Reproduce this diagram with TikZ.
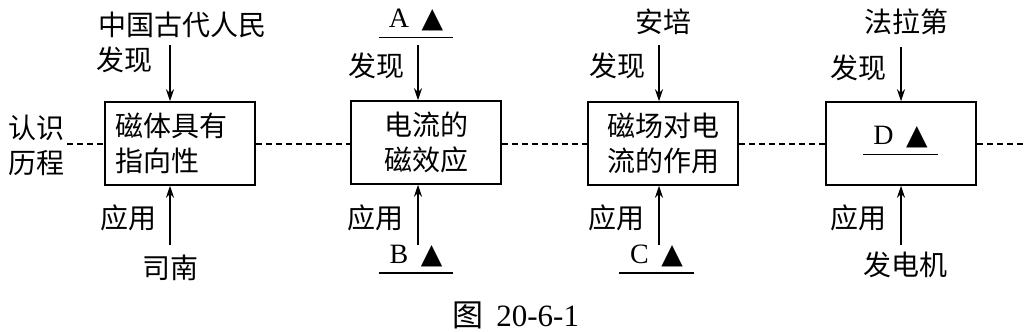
\documentclass[tikz,border=0pt]{standalone}
\usepackage{fontspec}
\setmainfont{Liberation Serif}
\newfontfamily\cjk{Noto Sans CJK SC}
\newfontfamily\sym{DejaVu Sans}
\usetikzlibrary{arrows.meta}

\begin{document}
\begin{tikzpicture}[x=0.5pt,y=-0.5pt,
		txt/.style={font=\fontsize{14}{17.5}\selectfont\cjk, inner sep=1pt},
		lat/.style={font=\fontsize{14}{17.5}\selectfont, inner sep=0pt, inner ysep=3pt, minimum width=37pt},
		box/.style={draw, line width=0.75pt, minimum width=75pt, minimum height=41.5pt, inner sep=0pt, txt, align=center},
		arr/.style={-{Stealth[length=6pt,width=4pt]}, line width=0.7pt},
		linkline/.style={dash pattern=on 3pt off 2pt, line width=0.6pt}]
	\useasboundingbox (0,0) rectangle (1035,332);
	
	% boxes
	\node[box, text width=65pt, align=left] (b1) at (180,143.5) {磁体具有\\指向性};
	\node[box] (b2) at (426,142.5) {电流的\\磁效应};
	\node[box] (b3) at (663,143.5) {磁场对电\\流的作用};
	\node[box] (b4) at (901,143.5) {};
	\node[lat, anchor=south] (d) at (900.5,154.5) {D\hspace{0.45em}{\sym ▲}};
	\draw[line width=0.6pt] (d.south west) -- (d.south east);
	
	% left label and dashed line
	\node[txt, align=left] (know) at (37,145) {认识\\历程};
	\coordinate (end) at (1025,144);
	\draw[linkline] (know.east |- 0,144) -- (b1.west |- 0,144);
	\draw[linkline] (b1.east |- 0,144) -- (b2.west |- 0,144);
	\draw[linkline] (b2.east |- 0,144) -- (b3.west |- 0,144);
	\draw[linkline] (b3.east |- 0,144) -- (b4.west |- 0,144);
	\draw[linkline] (b4.east |- 0,144) -- (end);
	
	% top: who found it
	\node[txt] (who1) at (182,25) {中国古代人民};
	\node[txt] (find1) at (125,60) {发现};
	\node[lat, anchor=south] (a) at (416,37.5) {A\hspace{0.45em}{\sym ▲}};
	\draw[line width=0.6pt] (a.south west) -- (a.south east);
	\node[txt] (find2) at (376,66) {发现};
	\node[txt] (who3) at (663,22) {安培};
	\node[txt] (find3) at (617,66) {发现};
	\node[txt] (who4) at (906,22) {法拉第};
	\node[txt] (find4) at (858,68) {发现};
	
	% bottom: what uses it
	\node[txt] (use1) at (128,218) {应用};
	\node[txt] (app1) at (170,268) {司南};
	\node[txt] (use2) at (375,218) {应用};
	\node[lat, anchor=south] (bb) at (416,273) {B\hspace{0.45em}{\sym ▲}};
	\draw[line width=0.6pt] (bb.south west) -- (bb.south east);
	\node[txt] (use3) at (616,218) {应用};
	\node[lat, anchor=south] (c) at (656.5,273) {C\hspace{0.45em}{\sym ▲}};
	\draw[line width=0.6pt] (c.south west) -- (c.south east);
	\node[txt] (use4) at (858,218) {应用};
	\node[txt] (app4) at (905,265) {发电机};
	
	% arrows
	\coordinate (t1) at (170,45);
	\coordinate (t2) at (418,45);
	\coordinate (t3) at (659,45);
	\coordinate (t4) at (901,47);
	\coordinate (u1) at (170,245);
	\coordinate (u2) at (418,245);
	\coordinate (u3) at (659,245);
	\coordinate (u4) at (901,245);
	\draw[arr] (t1) -- (t1 |- b1.north);
	\draw[arr] (t2) -- (t2 |- b2.north);
	\draw[arr] (t3) -- (t3 |- b3.north);
	\draw[arr] (t4) -- (t4 |- b4.north);
	\draw[arr] (u1) -- (u1 |- b1.south);
	\draw[arr] (u2) -- (u2 |- b2.south);
	\draw[arr] (u3) -- (u3 |- b3.south);
	\draw[arr] (u4) -- (u4 |- b4.south);
	
	% caption
	\node[lat, inner ysep=0pt, font=\fontsize{15.5}{18}\selectfont] (cap) at (516,315) {{\cjk 图}\hspace{0.4em}20-6-1};
\end{tikzpicture}
\end{document}
